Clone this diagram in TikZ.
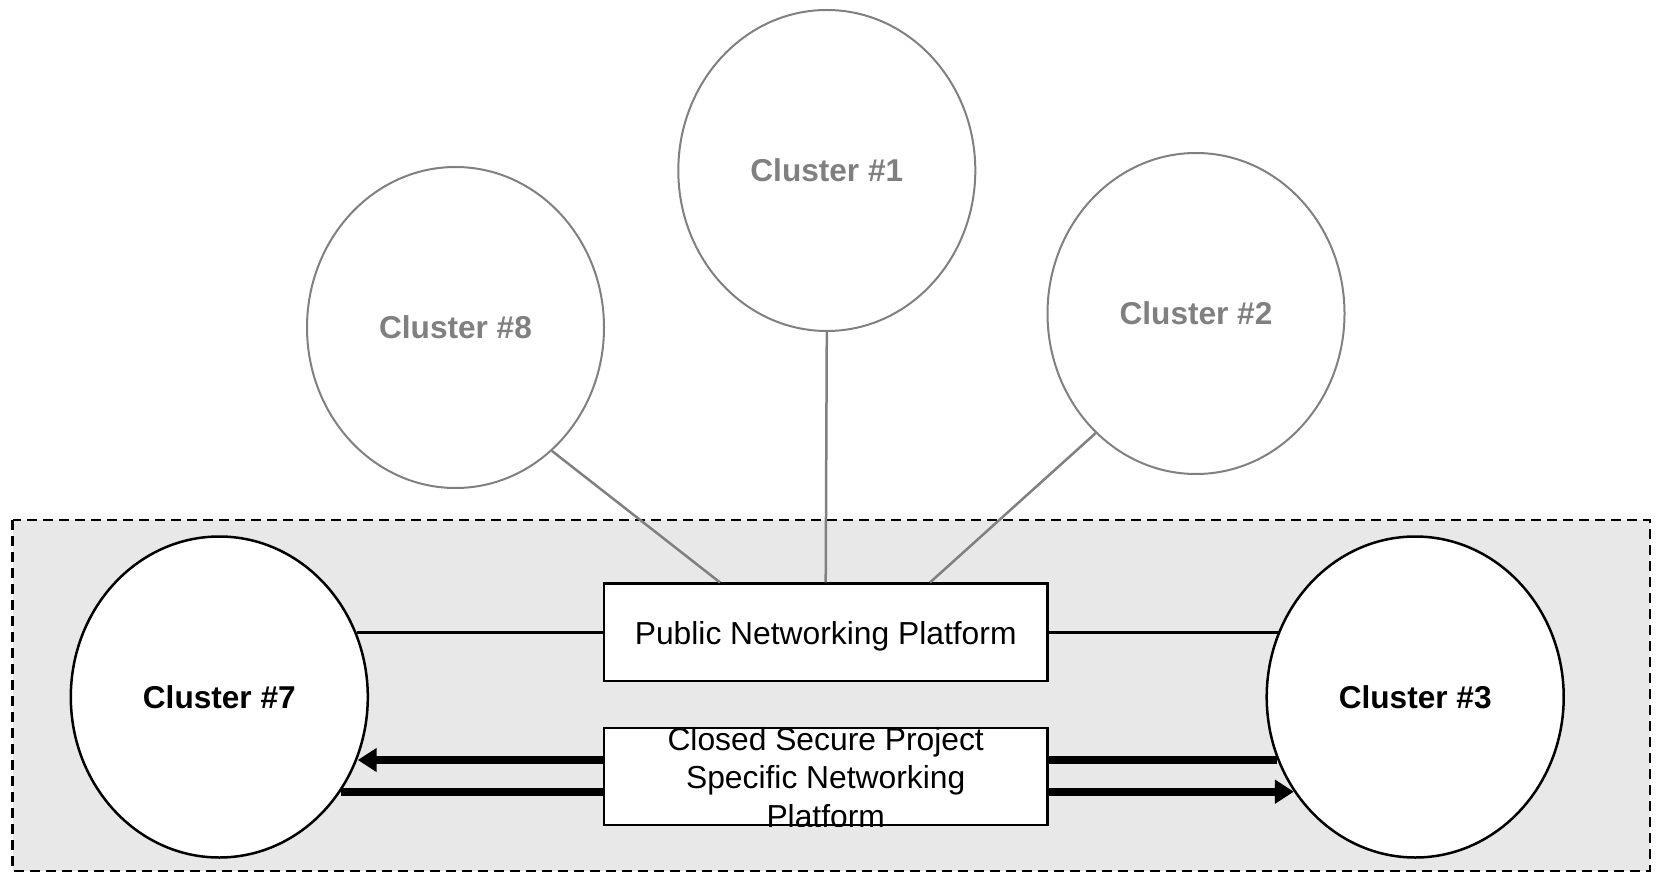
\documentclass[tikz,border=0pt]{standalone}
\usepackage{fontspec}
\setmainfont{Liberation Sans}
\usetikzlibrary{arrows.meta,shapes.geometric}
\definecolor{cgray}{HTML}{808080}
\definecolor{bgfill}{HTML}{E8E8E8}
\begin{document}
\begin{tikzpicture}[x=1pt,y=-1pt,
  cl/.style={ellipse,minimum width=297pt,minimum height=321pt,inner sep=0pt,fill=white,font=\fontsize{31.6}{36}\selectfont\bfseries},
  far/.style={cl,draw=cgray,text=cgray,line width=2pt},
  near/.style={cl,draw=black,line width=2.5pt},
  plat/.style={draw,fill=white,line width=2.5pt,minimum width=443.8pt,minimum height=97.4pt,inner sep=0pt},
  lbl/.style={font=\fontsize{31.8}{38.4}\selectfont,align=center,inner sep=0pt},
  glink/.style={draw=cgray,line width=2.5pt},
  blink/.style={draw=black,line width=2.5pt},
  flow/.style={draw=black,line width=8pt},
  flowarr/.style={flow,-{Triangle[length=19pt,width=23pt]}},
]
\useasboundingbox (0,0) rectangle (1661,874);
\draw[fill=bgfill,line width=2.5pt,dash pattern=on 10pt off 6pt] (12.7,520) rectangle (1650,871);

\node[far] (c8) at (455.5,327.5) {Cluster \#8};
\node[far] (c1) at (826.8,170.5) {Cluster \#1};
\node[far] (c2) at (1196,313.5) {Cluster \#2};
\node[near] (c7) at (219.3,697) {Cluster \#7};
\node[near] (c3) at (1415.2,697) {Cluster \#3};

\node[plat] (pub) at (825.7,632.4) {};
\node[lbl] (publbl) at ([yshift=-4pt]pub.center) {Public Networking Platform};
\node[plat] (closed) at (825.7,776.5) {};
\begin{scope}
\clip (closed.north west) rectangle (closed.south east);
\node[lbl] (closedlbl) at ([yshift=-1pt]closed.center) {Closed Secure Project\\Specific Networking\\Platform};
\end{scope}

\draw[glink] (c8.-52.8) -- ([xshift=-105.7pt]pub.north);
\draw[glink] (c1.south) -- (pub.north);
\draw[glink] (c2.-130.1) -- ([xshift=104.3pt]pub.north);

\draw[blink] (pub.west) -- (c7.25.4 |- pub.west);
\draw[blink] (pub.east) -- (c3.154.6 |- pub.east);

\coordinate (lu) at ([yshift=16.5pt]closed.west);
\coordinate (ll) at ([yshift=-15.2pt]closed.west);
\coordinate (ru) at ([yshift=16.5pt]closed.east);
\coordinate (rl) at ([yshift=-15.2pt]closed.east);
\draw[flowarr] (lu) -- (c7.-24.8 |- lu);
\draw[flow] (ll) -- (c7.-38.3 |- ll);
\draw[flow] (ru) -- (c3.204.8 |- ru);
\draw[flowarr] (rl) -- (c3.218.3 |- rl);
\end{tikzpicture}
\end{document}
